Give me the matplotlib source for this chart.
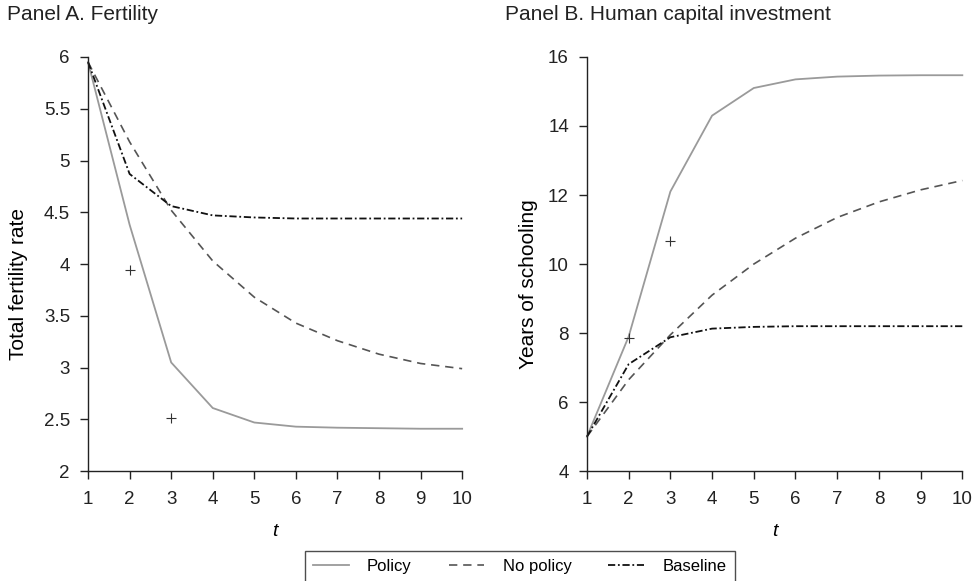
import matplotlib
matplotlib.use("Agg")
import matplotlib.pyplot as plt
from matplotlib.lines import Line2D

plt.rcParams["font.family"] = ["Liberation Sans", "DejaVu Sans"]

t = [1, 2, 3, 4, 5, 6, 7, 8, 9, 10]

# Panel A: total fertility rate
fert_policy = [5.95, 4.38, 3.05, 2.61, 2.47, 2.43, 2.42, 2.415, 2.41, 2.41]
fert_nopolicy = [5.95, 5.18, 4.52, 4.03, 3.68, 3.43, 3.26, 3.13, 3.04, 2.99]
fert_baseline = [5.95, 4.87, 4.56, 4.47, 4.45, 4.44, 4.44, 4.44, 4.44, 4.44]
fert_cross_t = [2, 3]
fert_cross_y = [3.94, 2.51]

# Panel B: years of schooling
school_policy = [5.0, 7.9, 12.1, 14.3, 15.1, 15.35, 15.43, 15.46, 15.47, 15.47]
school_nopolicy = [5.0, 6.65, 7.95, 9.1, 10.0, 10.75, 11.35, 11.8, 12.15, 12.42]
school_baseline = [5.0, 7.1, 7.88, 8.13, 8.18, 8.2, 8.2, 8.2, 8.2, 8.2]
school_cross_t = [2, 3]
school_cross_y = [7.85, 10.68]

policy_style = dict(color="#9a9a9a", lw=1.3, ls="-")
nopolicy_style = dict(color="#555555", lw=1.2, ls=(0, (5, 3.5)))
baseline_style = dict(color="#111111", lw=1.3, ls=(0, (4, 1.5, 1, 1.5)))

fig = plt.figure(figsize=(9.75, 5.81), dpi=100)
ax1 = fig.add_axes([0.0903, 0.189, 0.3837, 0.713])
ax2 = fig.add_axes([0.602, 0.189, 0.385, 0.713])


def style_axis(ax, ylim, yticks, ylabels, ylab, ylab_x):
    for s in ["top", "right"]:
        ax.spines[s].set_visible(False)
    for s in ["left", "bottom"]:
        ax.spines[s].set_color("#222222")
        ax.spines[s].set_linewidth(1.0)
    ax.set_xlim(1, 10)
    ax.set_ylim(*ylim)
    ax.set_xticks(t)
    ax.set_yticks(yticks)
    ax.set_yticklabels(ylabels)
    ax.tick_params(direction="out", length=6, width=1.0, pad=7,
                   labelsize=13.5, colors="#222222")
    ax.tick_params(axis="x", pad=8)
    ax.set_xlabel("t", fontstyle="italic", fontsize=14)
    ax.xaxis.set_label_coords(0.5, -0.125)
    ax.set_ylabel(ylab, fontsize=15)
    ax.yaxis.set_label_coords(ylab_x, 0.452)
    for sp in ax.spines.values():
        sp.set_clip_on(False)


ax1.plot(t, fert_policy, **policy_style, clip_on=False)
ax1.plot(t, fert_nopolicy, **nopolicy_style, clip_on=False)
ax1.plot(t, fert_baseline, **baseline_style, clip_on=False)
ax1.plot(fert_cross_t, fert_cross_y, "+", color="#333333", ms=7, mew=0.8)
style_axis(ax1, (2, 6), [2, 2.5, 3, 3.5, 4, 4.5, 5, 5.5, 6],
           ["2", "2.5", "3", "3.5", "4", "4.5", "5", "5.5", "6"],
           "Total fertility rate", -0.16)

ax2.plot(t, school_policy, **policy_style, clip_on=False)
ax2.plot(t, school_nopolicy, **nopolicy_style, clip_on=False)
ax2.plot(t, school_baseline, **baseline_style, clip_on=False)
ax2.plot(school_cross_t, school_cross_y, "+", color="#333333", ms=7, mew=0.8)
style_axis(ax2, (4, 16), [4, 6, 8, 10, 12, 14, 16],
           ["4", "6", "8", "10", "12", "14", "16"],
           "Years of schooling", -0.13)

fig.text(7 / 975, 1 - 15 / 581, "Panel A. Fertility", fontsize=15,
         va="center", ha="left", color="#222222")
fig.text(505 / 975, 1 - 15 / 581, "Panel B. Human capital investment",
         fontsize=15, va="center", ha="left", color="#222222")

handles = [Line2D([], [], **policy_style),
           Line2D([], [], **nopolicy_style),
           Line2D([], [], **baseline_style)]
leg = fig.legend(handles, ["Policy", "No policy", "Baseline"], ncol=3,
                 loc="upper center", bbox_to_anchor=(0.533, 0.052),
                 fontsize=12, frameon=True, fancybox=False, handlelength=2.15,
                 columnspacing=2.2, handletextpad=1.1, borderpad=0.5,
                 borderaxespad=0)
leg.get_frame().set_edgecolor("#222222")
leg.get_frame().set_linewidth(1.0)

fig.savefig("out.png", dpi=100)
